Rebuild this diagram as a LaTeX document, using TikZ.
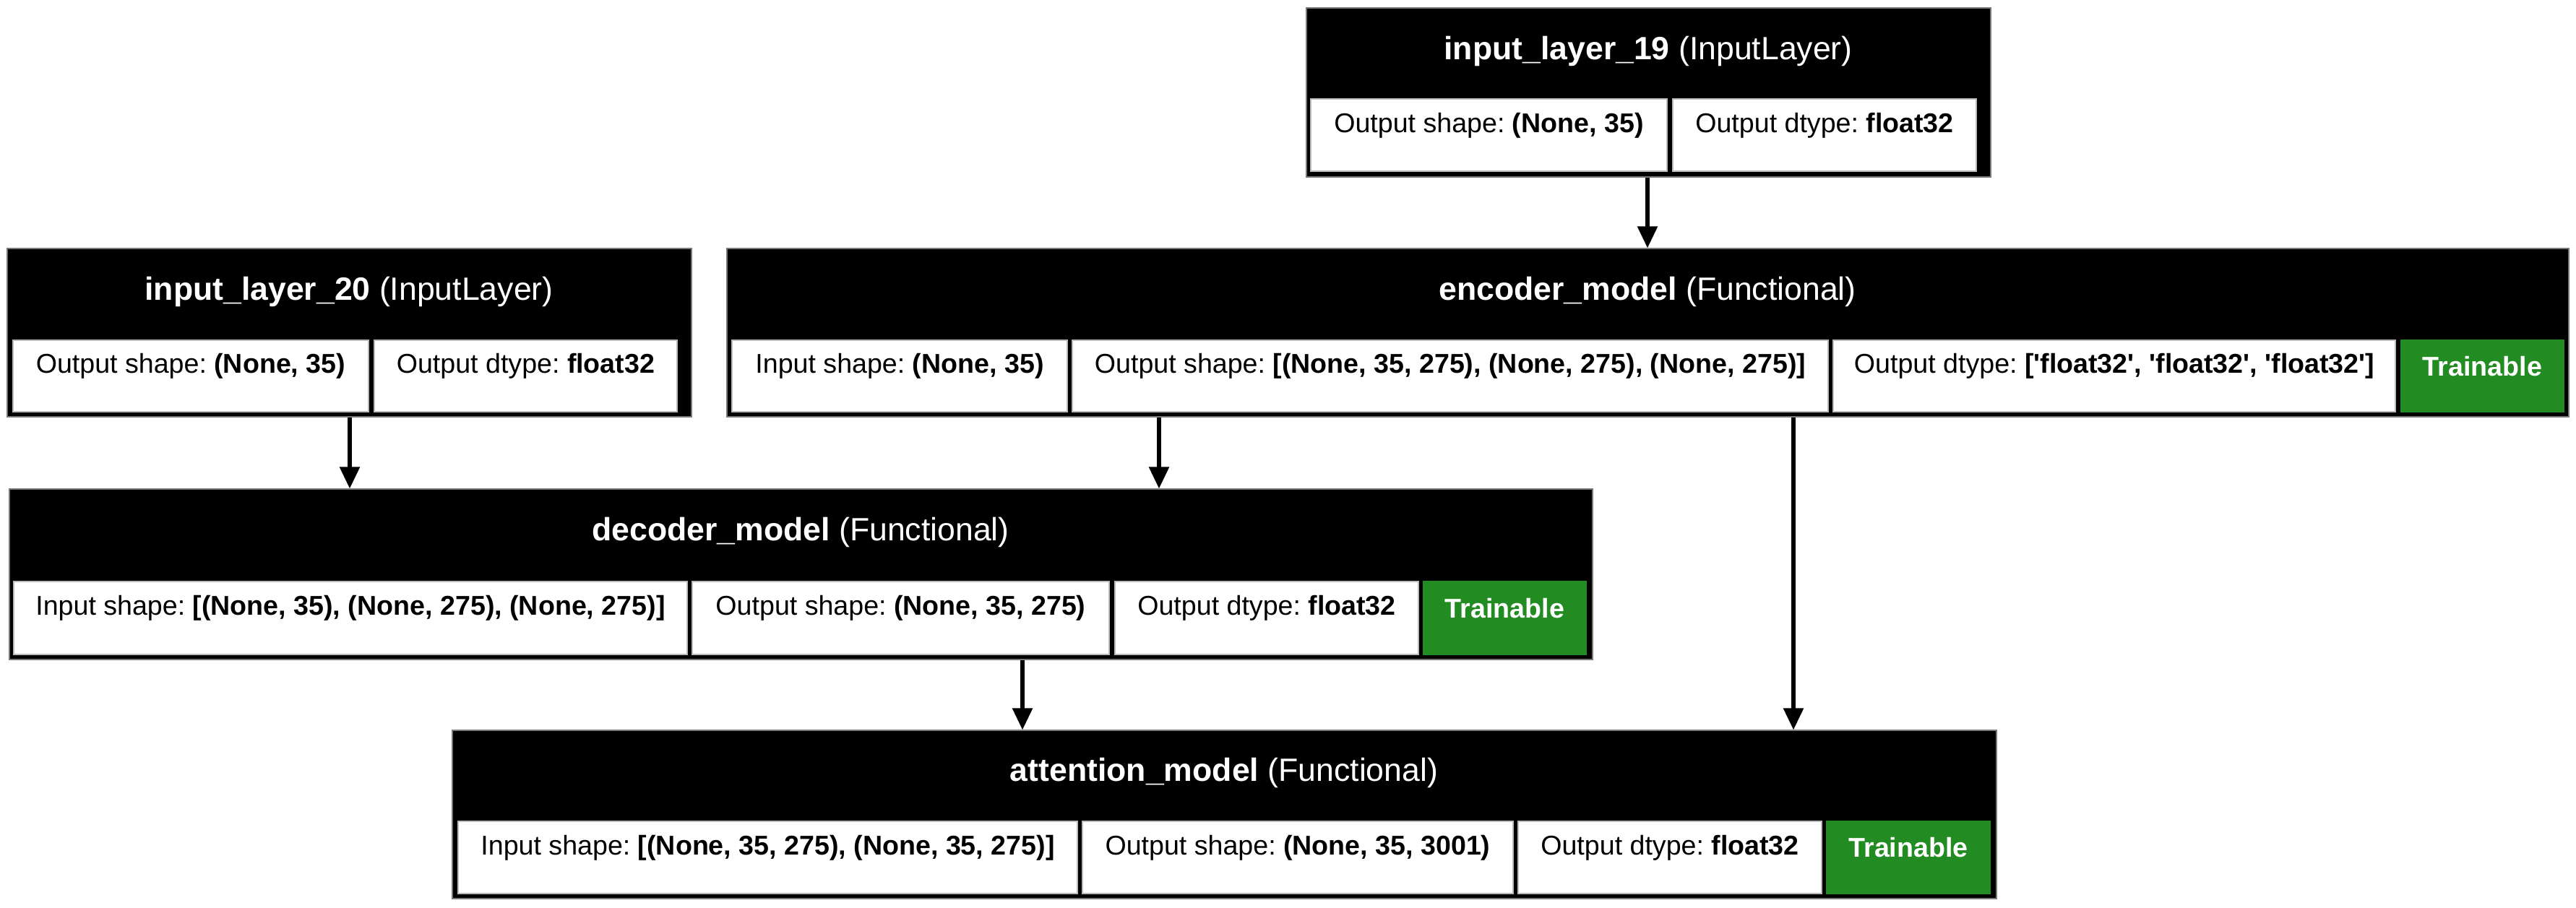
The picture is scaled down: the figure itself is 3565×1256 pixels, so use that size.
\documentclass[tikz,border=0pt]{standalone}
\usepackage{fontspec}
\setmainfont{Liberation Sans}
\usepackage{tikz}
\usetikzlibrary{fit}
\usetikzlibrary{arrows.meta}
\usepackage{xcolor}
\definecolor{ColTrain}{RGB}{34,139,34}
\definecolor{ColLine}{RGB}{120,120,120}
\frenchspacing
\tikzstyle{NodeLayer}=[rectangle,draw=ColLine,fill=black,inner sep=0pt,line width=0.3pt]
\tikzstyle{NodeHead}=[text=white,inner sep=0pt,font=\fontsize{11.15}{13}\selectfont]
\tikzstyle{NodeCell}=[rectangle,draw=ColLine!50,fill=white,inner sep=0pt,line width=0.3pt,
text height=6.6pt,text depth=2.6pt,font=\fontsize{9.4}{11}\selectfont]
\tikzstyle{NodeTrain}=[NodeCell,draw=ColTrain,fill=ColTrain,text=white,
font=\fontsize{9.4}{11}\selectfont\bfseries]
\tikzstyle{EdgeGraph}=[black,line width=1.4pt,-{Triangle[length=7.5pt,width=6.75pt]}]

\begin{document}
\begin{tikzpicture}[x=0.25pt,y=-0.25pt]
        \useasboundingbox(0,0)rectangle(3565,1256);
        % input_layer_19
        \node[NodeLayer,fit={(1808,11)(2755,245)}](il19){};
        \node[NodeHead](il19h)at(2281,71){\textbf{input\_layer\_19} (InputLayer)};
        \node[NodeCell,fit={(1814,137)(2307,237)}](il19a){Output shape: \textbf{(None, 35)}};
        \node[NodeCell,fit={(2315,137)(2735,237)}](il19b){Output dtype: \textbf{float32}};
        % input_layer_20
        \node[NodeLayer,fit={(10,344)(957,577)}](il20){};
        \node[NodeHead](il20h)at(483,404){\textbf{input\_layer\_20} (InputLayer)};
        \node[NodeCell,fit={(18,471)(510,570)}](il20a){Output shape: \textbf{(None, 35)}};
        \node[NodeCell,fit={(518,471)(937,570)}](il20b){Output dtype: \textbf{float32}};
        % encoder_model
        \node[NodeLayer,fit={(1006,344)(3555,577)}](enc){};
        \node[NodeHead](ench)at(2280,404){\textbf{encoder\_model} (Functional)};
        \node[NodeCell,fit={(1013,471)(1477,570)}](enca){Input shape: \textbf{(None, 35)}};
        \node[NodeCell,fit={(1484,471)(2530,570)}](encb){Output shape: \textbf{[(None, 35, 275), (None, 275), (None, 275)]}};
        \node[NodeCell,fit={(2537,471)(3315,570)}](encc){Output dtype: \textbf{[\textquotesingle float32\textquotesingle, \textquotesingle float32\textquotesingle, \textquotesingle float32\textquotesingle]}};
        \node[NodeTrain,fit={(3323,471)(3548,570)}](encd){Trainable};
        % decoder_model
        \node[NodeLayer,fit={(13,677)(2204,913)}](dec){};
        \node[NodeHead](dech)at(1108,737){\textbf{decoder\_model} (Functional)};
        \node[NodeCell,fit={(19,805)(951,906)}](deca){Input shape: \textbf{[(None, 35), (None, 275), (None, 275)]}};
        \node[NodeCell,fit={(958,805)(1535,906)}](decb){Output shape: \textbf{(None, 35, 275)}};
        \node[NodeCell,fit={(1543,805)(1963,906)}](decc){Output dtype: \textbf{float32}};
        \node[NodeTrain,fit={(1970,805)(2195,906)}](decd){Trainable};
        % attention_model
        \node[NodeLayer,fit={(626,1011)(2763,1244)}](att){};
        \node[NodeHead](atth)at(1694,1070){\textbf{attention\_model} (Functional)};
        \node[NodeCell,fit={(634,1137)(1491,1237)}](atta){Input shape: \textbf{[(None, 35, 275), (None, 35, 275)]}};
        \node[NodeCell,fit={(1498,1137)(2094,1237)}](attb){Output shape: \textbf{(None, 35, 3001)}};
        \node[NodeCell,fit={(2101,1137)(2521,1237)}](attc){Output dtype: \textbf{float32}};
        \node[NodeTrain,fit={(2528,1137)(2754,1237)}](attd){Trainable};
        % edges
        \coordinate(k1)at(2280,0);
        \coordinate(k2)at(484,0);
        \coordinate(k3)at(1604,0);
        \coordinate(k4)at(1415,0);
        \coordinate(k5)at(2482,0);
        \draw[EdgeGraph](il19.south-|k1)--(enc.north-|k1);
        \draw[EdgeGraph](il20.south-|k2)--(dec.north-|k2);
        \draw[EdgeGraph](enc.south-|k3)--(dec.north-|k3);
        \draw[EdgeGraph](dec.south-|k4)--(att.north-|k4);
        \draw[EdgeGraph](enc.south-|k5)--(att.north-|k5);
    \end{tikzpicture}
\end{document}
